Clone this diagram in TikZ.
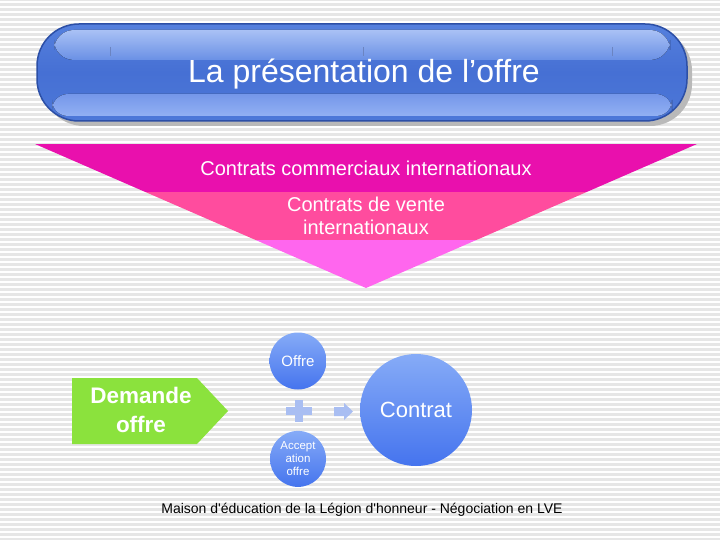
\documentclass[tikz,border=0pt]{standalone}
\usepackage{fontspec}
\setmainfont{Liberation Sans}
\usetikzlibrary{positioning}

\definecolor{stripegray}{HTML}{E6E6E6}
\definecolor{titlerim}{HTML}{2C4FA6}
\definecolor{titletop}{HTML}{5580DD}
\definecolor{titlemid}{HTML}{4670D4}
\definecolor{titlebot}{HTML}{4D78D8}
\definecolor{glosstop}{HTML}{A9C1F5}
\definecolor{glossbot}{HTML}{6A90E5}
\definecolor{lowtop}{HTML}{7597EA}
\definecolor{lowbot}{HTML}{92B0F3}
\definecolor{magtop}{HTML}{E910AD}
\definecolor{magmid}{HTML}{FF4C9E}
\definecolor{magbot}{HTML}{FF66EE}
\definecolor{demgreen}{HTML}{8BE23D}
\definecolor{bubtop}{HTML}{86ABF7}
\definecolor{bubbot}{HTML}{4574EE}
\definecolor{signblue}{HTML}{A9BEF2}

\begin{document}
\begin{tikzpicture}[x=1pt,y=-1pt]
	\tikzstyle{bubble} = [circle, inner sep=0pt, top color=bubtop, bottom color=bubbot, text=white, align=center]
	\tikzstyle{band}   = [text=white, align=center, font=\fontsize{20}{23}\selectfont]
	\tikzstyle{sign}   = [fill=signblue]

	\useasboundingbox (0,0) rectangle (720,540);

	% striped background
	\fill[stripegray] (0,0) rectangle (720,540);
	\foreach \y in {1,6,...,540}
		\fill[white] (0,\y) rectangle (720,\y+2);

	% title bar
	\fill[gray!55, rounded corners=42pt] (42,29) rectangle (692,126);
	\draw[titlerim, line width=1.5pt, rounded corners=42pt, top color=titletop, bottom color=titlebot, middle color=titlemid] (37,24) rectangle (687,121);
	\fill[rounded corners=20pt, top color=glosstop, bottom color=glossbot] (54,30) rectangle (670,60);
	\fill[rounded corners=16pt, top color=lowtop, bottom color=lowbot] (52,94) rectangle (672,116);
	\foreach \x in {110,363,612}
		\draw[titlerim!70, line width=0.6pt] (\x,47) -- (\x,56);
	\node[text=white, font=\fontsize{32}{36}\selectfont] (title) at (364,74) {La présentation de l’offre};

	% funnel
	\begin{scope}
		\clip (35,144) -- (697,144) -- (366,288) -- cycle;
		\fill[magtop] (0,144) rectangle (720,192);
		\fill[magmid] (0,192) rectangle (720,240);
		\fill[magbot] (0,240) rectangle (720,290);
	\end{scope}
	\node[band] (commerciaux) at (366,168) {Contrats commerciaux internationaux};
	\node[band] (vente) at (366,216) {Contrats de vente\\internationaux};

	% demande
	\fill[demgreen] (72,378) -- (197,378) -- (228,411) -- (197,444) -- (72,444) -- cycle;
	\node[text=white, align=center, font=\bfseries\fontsize{22.5}{29}\selectfont] (demande) at (141,410) {Demande\\offre};

	% offre + acceptation = contrat
	\node[bubble, minimum size=57pt, font=\fontsize{15}{18}\selectfont] (offre) at (298,361) {Offre};
	\node[bubble, minimum size=56pt, font=\fontsize{11.5}{13}\selectfont, below=41pt of offre] (acceptation) {Accept\\ation\\offre};
	\node[bubble, minimum size=112pt, font=\fontsize{22}{26}\selectfont] (contrat) at (416,410) {Contrat};

	\fill[sign] (295,400) rectangle (303,422);
	\fill[sign] (286,407) rectangle (312,415);
	\fill[sign] (334,407) -- (344,407) -- (344,403) -- (353,411.5) -- (344,420) -- (344,416) -- (334,416) -- cycle;

	\node[font=\fontsize{14}{16}\selectfont] (footer) at (362,510) {Maison d\textquotesingle éducation de la Légion d\textquotesingle honneur - Négociation en LVE};
\end{tikzpicture}
\end{document}
